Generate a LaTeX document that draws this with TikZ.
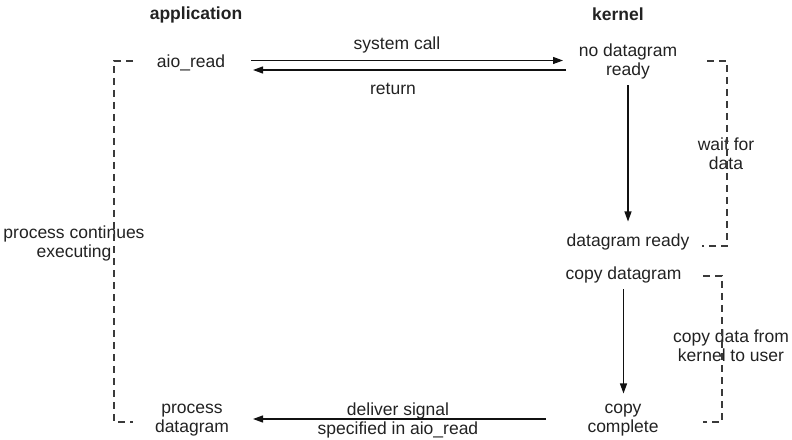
\documentclass[tikz,border=0pt]{standalone}
\usepackage{fontspec}
\setmainfont{Liberation Sans}
\usetikzlibrary{arrows.meta,calc}
\definecolor{ink}{HTML}{222222}
\definecolor{lineink}{HTML}{111111}
\definecolor{dashink}{HTML}{3A3A3A}
\begin{document}
\begin{tikzpicture}[x=1bp,y=-1bp,
  lbl/.style={inner sep=0pt,align=center,text=ink,yshift=-1.5bp,font=\fontsize{17.5bp}{19bp}\selectfont},
  head/.style={lbl,font=\fontsize{17.5bp}{19bp}\selectfont\bfseries},
  arr/.style={draw=lineink,line width=1.2bp,-{Triangle[length=10bp,width=7bp]}},
  bracket/.style={draw=dashink,line width=1.1bp,dash pattern=on 7bp off 5bp}]
\useasboundingbox (0,0) rectangle (792,440);

% column headings
\node[head] (app) at (196,13) {application};
\node[head] (ker) at (618,13) {kernel};

% application side
\node[lbl] (aio) at (191,61) {aio\_read};
\node[lbl] (pd)  at (192,419) {process\\datagram};
\node[lbl] (pce) at (74,241.5) {process continues\\executing};

% kernel side
\node[lbl] (nodg) at (628,59.5) {no datagram\\ready};
\node[lbl] (dgr)  at (628,240) {datagram ready};
\node[lbl] (cpd)  at (623.5,273) {copy datagram};
\node[lbl] (cpc)  at (623,419) {copy\\complete};
\node[lbl] (wfd)  at (726,152.5) {wait for\\data};
\node[lbl] (cdk)  at (731,344.5) {copy data from\\kernel to user};

% arrow captions
\node[lbl] (sclbl)  at (397,43) {system call};
\node[lbl] (retlbl) at (393,87) {return};
\node[lbl] (dlbl)   at (398,419) {deliver signal\\specified in aio\_read};

% system call and return
\draw[arr,shorten <=60bp,shorten >=65bp] ($(aio.center)+(0,-2)$) -- ($(aio.center -| nodg.center)+(0,-2)$);
\draw[arr,shorten <=62bp,shorten >=62bp] ($(aio.center -| nodg.center)+(0,7.5)$) -- ($(aio.center)+(0,7.5)$);

% kernel progress
\draw[arr,shorten <=24.5bp,shorten >=20bp] (nodg.center) -- (nodg.center |- dgr.center);
\draw[arr,shorten <=15bp,shorten >=27bp] (cpd.center) -- (cpd.center |- cpc.center);

% signal back to the application
\draw[arr,shorten <=77bp,shorten >=61bp] ($(cpc.center)+(0,-1.5)$) -- ($(pd.center)+(0,-1.5)$);

% dashed brackets
\draw[bracket] ($(aio.center)+(-58,-1.5)$) -| ($(pd.center)+(-78,1.5)$) -- ($(pd.center)+(-59,1.5)$);
\draw[bracket] ($(nodg.center)+(79,0)$) -| ($(dgr.center)+(99,4.5)$) -- ($(dgr.center)+(74,4.5)$);
\draw[bracket] ($(cpd.center)+(79.5,1.5)$) -| ($(cpc.center)+(99,1.5)$) -- ($(cpc.center)+(80,1.5)$);
\end{tikzpicture}
\end{document}
